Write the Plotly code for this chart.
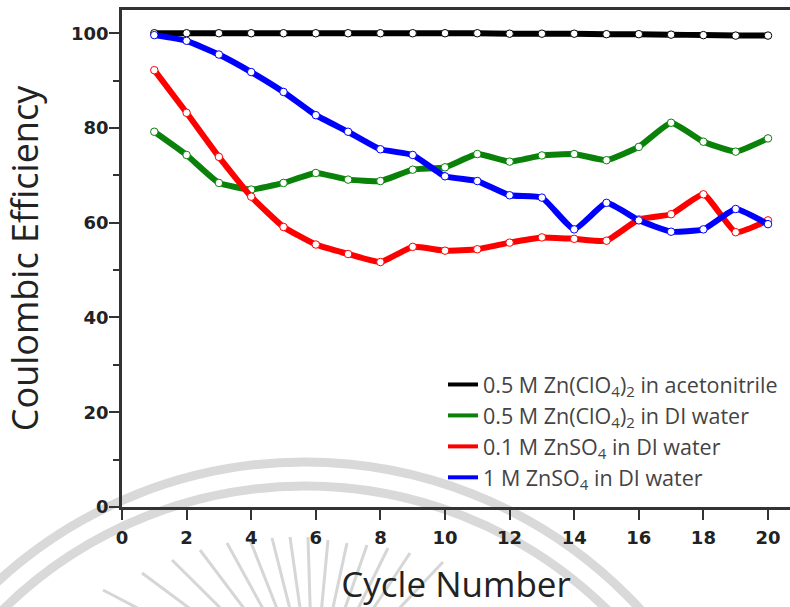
import plotly.graph_objects as go

# Coulombic efficiency per cycle for four electrolytes
cycles = list(range(1, 21))

ce_zn_clo4_acn = [100.0, 100.0, 100.0, 100.0, 100.0, 100.0, 100.0, 100.0, 100.0, 100.0,
                  100.0, 99.9, 99.9, 99.9, 99.8, 99.8, 99.7, 99.6, 99.5, 99.5]
ce_zn_clo4_water = [79.2, 74.3, 68.4, 67.0, 68.4, 70.5, 69.1, 68.8, 71.2, 71.7,
                    74.5, 72.9, 74.2, 74.5, 73.2, 76.0, 81.1, 77.1, 75.0, 77.8]
ce_znso4_01m = [92.2, 83.2, 73.9, 65.5, 59.1, 55.4, 53.4, 51.7, 54.9, 54.1,
                54.4, 55.8, 56.9, 56.6, 56.2, 60.7, 61.8, 66.0, 58.0, 60.5]
ce_znso4_1m = [99.6, 98.4, 95.5, 91.8, 87.6, 82.7, 79.2, 75.5, 74.3, 69.8,
               68.8, 65.8, 65.3, 58.6, 64.2, 60.5, 58.1, 58.6, 62.9, 59.7]

series_names = [
    "0.5 M Zn(ClO<sub>4</sub>)<sub>2</sub> in acetonitrile",
    "0.5 M Zn(ClO<sub>4</sub>)<sub>2</sub> in DI water",
    "0.1 M ZnSO<sub>4</sub> in DI water",
    "1 M ZnSO<sub>4</sub> in DI water",
]
series_values = [ce_zn_clo4_acn, ce_zn_clo4_water, ce_znso4_01m, ce_znso4_1m]
series_colors = ["#000000", "#0a820a", "#ff0000", "#0000ff"]

x_ticks = list(range(0, 21, 2))
y_ticks = list(range(0, 101, 20))

W, H = 790, 607
ML, MR, MT, MB = 122, 0, 10, 100
PW, PH = W - ML - MR, H - MT - MB


def px_x(v):
    return (v - ML) / PW


def px_y(v):
    return (H - MB - v) / PH


fig = go.Figure()

for name, vals, col in zip(series_names, series_values, series_colors):
    fig.add_trace(go.Scatter(
        x=cycles, y=vals, mode="lines+markers", name=name, showlegend=False,
        line=dict(color=col, width=6, shape="spline", smoothing=0.4),
        marker=dict(symbol="circle", size=7.5, color="white",
                    line=dict(color=col, width=1)),
    ))

# legend entries drawn as plain line swatches
for i, (name, col) in enumerate(zip(series_names, series_colors)):
    fig.add_trace(go.Scatter(
        x=[None], y=[None], mode="lines", name=name, legendgroup=f"g{i}",
        line=dict(color=col, width=4),
    ))

# faint seal in the background
shapes = []
seal_cx, seal_cy = 305, 917
for r in (455, 431):
    shapes.append(dict(
        type="circle", xref="paper", yref="paper", layer="below",
        x0=px_x(seal_cx - r), x1=px_x(seal_cx + r),
        y0=px_y(seal_cy + r), y1=px_y(seal_cy - r),
        line=dict(color="#d9d9d9", width=9), fillcolor="rgba(0,0,0,0)",
    ))
ray_tops = [(103, 590), (142, 573), (172, 560), (200, 550), (227, 543), (250, 540),
            (272, 538), (290, 537), (308, 537), (328, 540), (347, 543), (367, 545),
            (388, 548), (410, 553), (443, 562)]
ray_cx, ray_cy = 313, 700
for tx, ty in ray_tops:
    bx = tx + (ray_cx - tx) * 0.55
    by = ty + (ray_cy - ty) * 0.55
    shapes.append(dict(
        type="line", xref="paper", yref="paper", layer="below",
        x0=px_x(tx), y0=px_y(ty), x1=px_x(bx), y1=px_y(by),
        line=dict(color="#d6d6d6", width=3),
    ))

axis_col = "#333333"
tick_font = dict(family="DejaVu Sans", size=18, weight="bold", color="#222222")
fig.update_layout(
    width=W, height=H,
    margin=dict(l=ML, r=MR, t=MT, b=MB, autoexpand=False),
    paper_bgcolor="white", plot_bgcolor="white",
    shapes=shapes,
    showlegend=True,
    legend=dict(
        x=px_x(443), y=px_y(364), xanchor="left", yanchor="top",
        bgcolor="rgba(0,0,0,0)", borderwidth=0,
        font=dict(family="Open Sans", size=21.5, color="#444444"),
        tracegroupgap=0, traceorder="grouped", itemwidth=30,
    ),
    xaxis=dict(
        range=[0, PW / 32.3], tickmode="array", tickvals=x_ticks,
        ticktext=[str(t) for t in x_ticks],
        showgrid=False, zeroline=False, showline=True, mirror=True,
        linecolor=axis_col, linewidth=2.5,
        ticks="outside", ticklen=10, tickwidth=2, tickcolor=axis_col,
        tickfont=tick_font, ticklabelstandoff=3,
        title=dict(text="Cycle Number", standoff=26,
                   font=dict(family="Open Sans", size=35, color="#222222")),
        automargin=False,
    ),
    yaxis=dict(
        range=[0, 104.9], tickmode="array", tickvals=y_ticks,
        showgrid=False, zeroline=False, showline=True,
        linecolor=axis_col, linewidth=2.5,
        ticks="outside", ticklen=10, tickwidth=2, tickcolor=axis_col,
        minor=dict(dtick=10, ticks="outside", ticklen=6, tickwidth=2, tickcolor=axis_col),
        tickfont=tick_font, ticklabelstandoff=-3,
        title=dict(text="Coulombic Efficiency", standoff=22,
                   font=dict(family="Open Sans", size=36, color="#222222")),
        automargin=False,
    ),
)

fig.write_html("out.html")
